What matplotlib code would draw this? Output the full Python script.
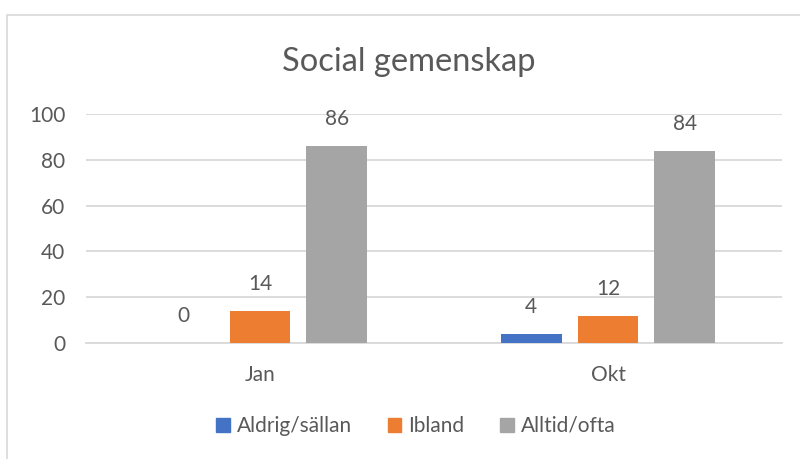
import matplotlib
matplotlib.use("Agg")
import matplotlib.pyplot as plt
from matplotlib.patches import Rectangle, Patch
import numpy as np

categories = ["Jan", "Okt"]
series_names = ["Aldrig/sällan", "Ibland", "Alltid/ofta"]
aldrig = [0, 4]
ibland = [14, 12]
alltid = [86, 84]
colors = ["#4472C4", "#ED7D31", "#A5A5A5"]
yticks = [0, 20, 40, 60, 80, 100]

plt.rcParams['font.family'] = ['Lato', 'DejaVu Sans']
txt = "#595959"

fig = plt.figure(figsize=(8, 4.59), dpi=100)
ax = fig.add_axes([86/800, 1-343/459, 696/800, 229/459])

# chart border
fig.patches.append(Rectangle((7/800, -0.1), 1.2, 1 - 15/459 + 0.1, transform=fig.transFigure,
                             fill=False, edgecolor="#D9D9D9", linewidth=1.2))

x = np.arange(len(categories))
width = 0.175
step = 0.221
for i, (vals, name, c) in enumerate(zip([aldrig, ibland, alltid], series_names, colors)):
    pos = x + (i - 1) * step
    ax.bar(pos, vals, width=width, color=c, zorder=3, label=name)
    for p, v in zip(pos, vals):
        ax.annotate(str(v), (p, v), xytext=(0, 12), textcoords="offset points",
                    ha="center", va="bottom", fontsize=15, color=txt)

ax.set_xlim(-0.5, 1.5)
ax.set_ylim(0, 100)
ax.set_yticks(yticks)
ax.set_xticks(x)
ax.set_xticklabels(categories)
ax.grid(axis="y", color="#D9D9D9", linewidth=1.3, zorder=0)
for s in ["top", "right", "left"]:
    ax.spines[s].set_visible(False)
ax.spines["bottom"].set_color("#D9D9D9")
ax.spines["bottom"].set_linewidth(1.3)
ax.tick_params(axis="both", length=0, labelsize=15, colors=txt)
ax.tick_params(axis="y", pad=15)
ax.tick_params(axis="x", pad=16)

fig.text(409/800, 1-62/459, "Social gemenskap", ha="center", va="center", fontsize=23.5, color=txt)

handles = [Patch(color=c) for c in colors]
fig.legend(handles, series_names, loc="center", bbox_to_anchor=(416/800, 1-426/459),
           ncol=3, frameon=False, fontsize=15, handlelength=0.65, handleheight=0.65,
           handletextpad=0.35, columnspacing=1.7, labelcolor=txt)

fig.savefig("out.png", dpi=100)
